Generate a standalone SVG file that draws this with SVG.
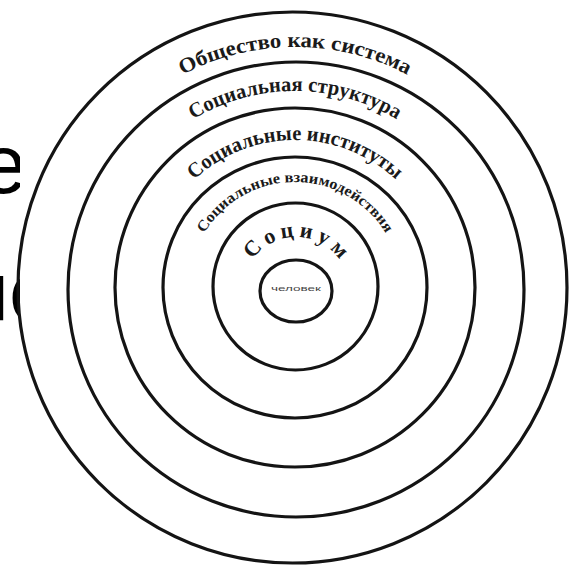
<svg xmlns="http://www.w3.org/2000/svg" width="569" height="567" viewBox="0 0 569 567">
  <style>
    .ring { fill: none; stroke: #141414; stroke-width: 3.2; }
    .arc { font-family: "Liberation Serif", "DejaVu Serif", serif; font-weight: bold; fill: #1a1a1a; }
    .bg { font-family: "Liberation Sans", Arial, sans-serif; fill: #000; }
  </style>
  <defs>
    <path id="p1" d="M 140 103.4 A 241 241 0 0 1 450 103.4"/>
    <path id="p2" d="M 155.7 148.7 A 197 197 0 0 1 434.3 148.7"/>
    <path id="p3" d="M 173.8 203.1 A 148 148 0 0 1 416.2 203.1"/>
    <path id="p4" d="M 192.6 260.6 A 106 106 0 0 1 397.4 260.6"/>
    <path id="p5" d="M 243.8 280.8 A 53 53 0 0 1 348.2 280.8"/>
  </defs>
  <rect width="569" height="567" fill="#ffffff"/>
  <g id="slide-text">
    <text class="bg" x="-20" y="193" font-size="84">е</text>
    <text class="bg" x="-40" y="320" font-size="84">лс</text>
  </g>
  <rect x="20" y="0" width="549" height="567" fill="#ffffff"/>
  <g id="rings">
    <ellipse class="ring" cx="292.5" cy="287.5" rx="274.5" ry="275.5"/>
    <ellipse class="ring" cx="296" cy="289.5" rx="228" ry="227.5"/>
    <ellipse class="ring" cx="295" cy="287.5" rx="180" ry="179.5"/>
    <ellipse class="ring" cx="295" cy="287.5" rx="132" ry="130.5"/>
    <ellipse class="ring" cx="295.5" cy="286.5" rx="82.5" ry="83.5"/>
    <ellipse class="ring" cx="296" cy="291" rx="36" ry="31"/>
  </g>
  <g id="society">
    <text class="arc" font-size="21"><textPath href="#p1" startOffset="50%" text-anchor="middle" textLength="234" lengthAdjust="spacingAndGlyphs">Общество как система</textPath></text>
  </g>
  <g id="social-structure">
    <text class="arc" font-size="21"><textPath href="#p2" startOffset="50%" text-anchor="middle" textLength="214" lengthAdjust="spacingAndGlyphs">Социальная структура</textPath></text>
  </g>
  <g id="social-institutions">
    <text class="arc" font-size="21"><textPath href="#p3" startOffset="50%" text-anchor="middle" textLength="222" lengthAdjust="spacingAndGlyphs">Социальные институты</textPath></text>
  </g>
  <g id="social-interactions">
    <text class="arc" font-size="15"><textPath href="#p4" startOffset="50%" text-anchor="middle" textLength="218" lengthAdjust="spacingAndGlyphs">Социальные взаимодействия</textPath></text>
  </g>
  <g id="socium">
    <text class="arc" font-size="22" font-weight="normal"><textPath href="#p5" startOffset="50%" text-anchor="middle" textLength="102" lengthAdjust="spacing">Социум</textPath></text>
  </g>
  <g id="person">
    <text x="296" y="291" font-family="Liberation Sans, Arial, sans-serif" font-size="8" fill="#444" text-anchor="middle" textLength="50" lengthAdjust="spacingAndGlyphs">человек</text>
  </g>
</svg>
